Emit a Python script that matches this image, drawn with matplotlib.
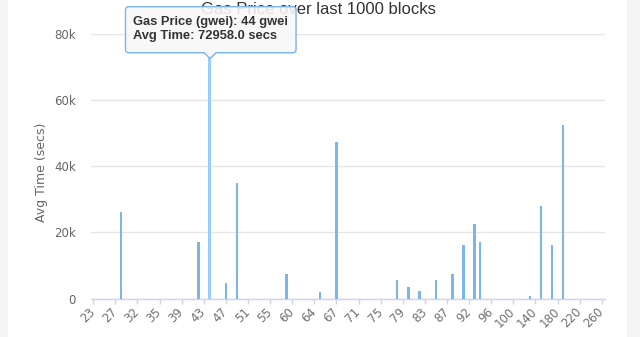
import matplotlib
matplotlib.use("Agg")
import matplotlib.pyplot as plt
from matplotlib.path import Path
from matplotlib.patches import PathPatch, Rectangle
from matplotlib.ticker import FuncFormatter

# distinct gas prices seen in the last 1000 blocks (gwei), one category each
gas_prices = [23, 24, 25, 26, 27, 28, 29, 30, 32, 33, 33.5, 34, 35, 36, 37, 38,
              39, 40, 41, 42, 43, 44, 45, 46, 47, 48, 49, 50, 51, 52, 53, 54,
              55, 56, 58, 59, 60, 61, 62, 63, 64, 65, 65.5, 66, 67, 68, 69, 70,
              71, 72, 73, 74, 75, 76, 77, 78, 79, 80, 81, 82, 83, 84, 85, 86,
              87, 88, 89, 90, 92, 93, 94, 95, 96, 97, 98, 99, 100, 110, 120, 130,
              140, 150, 160, 170, 180, 190, 200, 210, 220, 230, 240, 250, 260]

# prices that actually had a measurable wait, and the average wait (secs)
bar_prices = [28, 42, 44, 47, 49, 59, 65, 67, 78, 80, 82, 85, 88, 90, 93, 94,
              130, 150, 170, 190]
bar_times = [26300, 17100, 72958, 4600, 35000, 7300, 2050, 47400, 5600, 3400,
             2300, 5600, 7400, 16200, 22600, 17000, 800, 28000, 16200, 52400]

hover_price = 44
y_ticks = [0, 20000, 40000, 60000, 80000]
label_step = 4

W, H = 640, 337

avg_time = [0] * len(gas_prices)
for p, t in zip(bar_prices, bar_times):
    avg_time[gas_prices.index(p)] = t


def fmt_price(p):
    return str(int(p)) if float(p).is_integer() else str(p)


def fx(x):
    return x / W


def fy(y):
    return 1 - y / H


fig = plt.figure(figsize=(W / 100, H / 100), dpi=100, facecolor="#f4f5f7")
fig.patches.append(Rectangle((fx(8), 0), fx(627) - fx(8), 1, transform=fig.transFigure,
                             facecolor="white", edgecolor="none", zorder=-5))

ax = fig.add_axes([fx(90.5), 38.5 / H, 514 / W, 264.2 / H])
ax.set_facecolor("none")

idx = list(range(len(gas_prices)))
colors = ["#95ceff" if p == hover_price else "#7cb5ec" for p in gas_prices]
ax.bar(idx, avg_time, width=0.45, color=colors, zorder=3)

ax.set_xlim(-0.5, len(gas_prices) - 0.5)
ax.set_ylim(0, 80000)
ax.set_yticks(y_ticks)
ax.yaxis.set_major_formatter(FuncFormatter(lambda v, _: "0" if v == 0 else f"{int(v // 1000)}k"))
ax.grid(axis="y", color="#e6e6e6", linewidth=1, zorder=0)
ax.tick_params(axis="y", length=0, pad=10.5, labelsize=8.5, labelcolor="#666666")

ax.set_xticks(idx[::label_step])
ax.set_xticklabels([fmt_price(p) for p in gas_prices[::label_step]],
                   rotation=45, ha="right", va="center", rotation_mode="anchor")
ax.tick_params(axis="x", length=3.6, width=1, color="#ccd6eb", pad=4.5,
               labelsize=8.5, labelcolor="#707070")

for s in ["top", "right", "left"]:
    ax.spines[s].set_visible(False)
ax.spines["bottom"].set_color("#ccd6eb")
ax.spines["bottom"].set_linewidth(1)

fig.text(fx(42), fy(172), "Avg Time (secs)", rotation=90, ha="center", va="center",
         fontsize=9, color="#666666")
fig.text(fx(318), fy(9), "Gas Price over last 1000 blocks", ha="center", va="center",
         fontsize=12, color="#333333", family="Liberation Sans", zorder=3)

# tooltip callout for the hovered bar
x0, x1, y0, y1, r = 125.5, 296, 6.7, 52.7, 3
cx, tip, hw = 210, 58.5, 6
pts = [(x0 + r, y0), (x1 - r, y0), (x1, y0), (x1, y0 + r), (x1, y1 - r), (x1, y1),
       (x1 - r, y1), (cx + hw, y1), (cx, tip), (cx - hw, y1), (x0 + r, y1), (x0, y1),
       (x0, y1 - r), (x0, y0 + r), (x0, y0), (x0 + r, y0), (x0 + r, y0)]
codes = [Path.MOVETO, Path.LINETO, Path.CURVE3, Path.CURVE3, Path.LINETO, Path.CURVE3,
         Path.CURVE3, Path.LINETO, Path.LINETO, Path.LINETO, Path.LINETO, Path.CURVE3,
         Path.CURVE3, Path.LINETO, Path.CURVE3, Path.CURVE3, Path.CLOSEPOLY]


def callout(dx=0, dy=0):
    return Path([(fx(x + dx), fy(y + dy)) for x, y in pts], codes)


fig.patches.append(PathPatch(callout(1, 1), transform=fig.transFigure, facecolor=(0, 0, 0, 0.06),
                             edgecolor="none", zorder=9))
fig.patches.append(PathPatch(callout(), transform=fig.transFigure,
                             facecolor=(0.98, 0.98, 0.98, 0.88), edgecolor="#7cb5ec",
                             linewidth=1, zorder=10))

i = gas_prices.index(hover_price)
tip_font = dict(va="center", fontsize=9.25, weight="bold", color="#333333",
                family="Liberation Sans", zorder=11)
fig.text(fx(133), fy(22.3), f"Gas Price (gwei): {fmt_price(hover_price)} gwei", **tip_font)
fig.text(fx(133), fy(36.5), f"Avg Time: {avg_time[i]:.1f} secs", **tip_font)

fig.savefig("out.png", dpi=100, facecolor=fig.get_facecolor())
